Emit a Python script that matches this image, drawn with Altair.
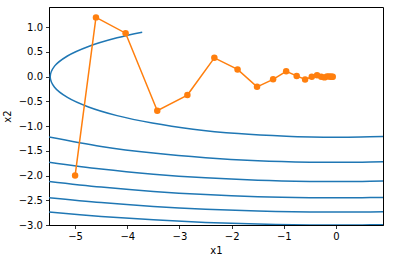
import altair as alt
import pandas as pd

# Trajectory (x1, x2)
traj_x1 = [-5.0, -4.6, -4.032, -3.4254, -2.8481, -2.3316, -1.8868, -1.5135, -1.2057,
           -0.9554, -0.7538, -0.5927, -0.4647, -0.3636, -0.2839, -0.2214, -0.1724,
           -0.1341, -0.1042, -0.0810, -0.0628]
traj_x2 = [-2.0, 1.2, 0.88, -0.688, -0.3712, 0.3811, 0.1475, -0.2053, -0.0532,
           0.1080, 0.0158, -0.0556, -0.0023, 0.0280, -0.0016, -0.0138, 0.0022,
           0.0067, -0.0018, -0.0032, 0.0012]

# Contour level 3 (ellipse arc), ordered along the curve
ell_x1 = [-3.714, -4.196, -4.743, -5.147, -5.394, -5.477, -5.394, -5.147, -4.743,
          -4.196, -3.521, -2.739, -1.873, -0.951, -0.477, 0.0, 0.477, 0.904]
ell_x2 = [0.900, 0.787, 0.612, 0.419, 0.213, 0.0, -0.213, -0.419, -0.612,
          -0.787, -0.938, -1.061, -1.151, -1.206, -1.220, -1.225, -1.220, -1.208]

# Other contour levels (lower branches)
lvl_x1 = [-5.5, -4.5, -3.5, -2.5, -1.5, -0.5, 0.0, 0.5, 0.9]
lvl_6 = [-1.2196, -1.4098, -1.5452, -1.6394, -1.6993, -1.7285, -1.7321, -1.7285, -1.7203]
lvl_9 = [-1.7285, -1.8675, -1.9717, -2.0463, -2.0946, -2.1184, -2.1213, -2.1184, -2.1118]
lvl_12 = [-2.1184, -2.2333, -2.3211, -2.3848, -2.4264, -2.4469, -2.4495, -2.4469, -2.4412]
lvl_15 = [-2.4469, -2.5471, -2.6244, -2.6810, -2.7180, -2.7363, -2.7386, -2.7363, -2.7312]
lvl_18 = [-2.7363, -2.8262, -2.8961, -2.9475, -2.9812, -2.9979, -3.0, -2.9979, -2.9932]

x_ticks = [-5, -4, -3, -2, -1, 0]
y_ticks = [-3.0, -2.5, -2.0, -1.5, -1.0, -0.5, 0.0, 0.5, 1.0]

rows = []
for i, (a, b) in enumerate(zip(ell_x1, ell_x2)):
    rows.append({"level": 3, "x1": a, "x2": b, "o": i})
for lv, ys in [(6, lvl_6), (9, lvl_9), (12, lvl_12), (15, lvl_15), (18, lvl_18)]:
    for i, (a, b) in enumerate(zip(lvl_x1, ys)):
        rows.append({"level": lv, "x1": a, "x2": b, "o": i})
contour_df = pd.DataFrame(rows)
traj_df = pd.DataFrame({"x1": traj_x1, "x2": traj_x2, "o": list(range(len(traj_x1)))})

xscale = alt.Scale(domain=[-5.5, 0.9], nice=False, zero=False)
yscale = alt.Scale(domain=[-3.0, 1.41], nice=False, zero=False)
xaxis = alt.Axis(title="x1", values=x_ticks, format="d")
yaxis = alt.Axis(title="x2", values=y_ticks, format=".1f", labelOverlap=False)

X = alt.X("x1:Q", scale=xscale, axis=xaxis)
Y = alt.Y("x2:Q", scale=yscale, axis=yaxis)

contours = alt.Chart(contour_df).mark_line(
    color="#1f77b4", strokeWidth=1.5, interpolate="catmull-rom", clip=True
).encode(x=X, y=Y, detail="level:N", order="o:Q")

traj_line = alt.Chart(traj_df).mark_line(color="#ff7f0e", strokeWidth=1.5, clip=True).encode(
    x=X, y=Y, order="o:Q"
)
traj_pts = alt.Chart(traj_df).mark_circle(color="#ff7f0e", size=42, opacity=1, clip=True).encode(
    x=X, y=Y
)

chart = alt.layer(contours, traj_line, traj_pts).properties(
    width=334,
    height=218,
    autosize=alt.AutoSizeParams(type="none"),
    padding={"left": 49, "top": 7, "right": 11, "bottom": 37},
    background="white",
).configure_view(
    stroke="#000000", strokeWidth=1
).configure_axis(
    grid=False,
    domainColor="#000000",
    domainWidth=1,
    tickColor="#000000",
    tickSize=3.5,
    tickWidth=0.8,
    labelFont="DejaVu Sans",
    labelFontSize=10,
    labelColor="#000000",
    labelPadding=3,
    titleFont="DejaVu Sans",
    titleFontSize=10,
    titleFontWeight="normal",
    titleColor="#000000",
).configure_axisX(titlePadding=4).configure_axisY(titlePadding=6)

chart.save("out.html", embed_options={"renderer": "svg", "actions": False})
